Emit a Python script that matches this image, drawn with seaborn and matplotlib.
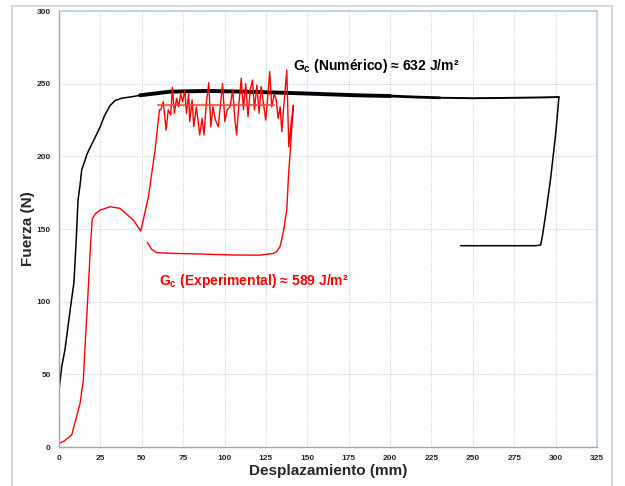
import matplotlib
matplotlib.use("Agg")
import matplotlib.pyplot as plt
import seaborn as sns
import pandas as pd
from matplotlib.patches import Rectangle

# ---------------- data ----------------
# Numerical curve (black)
num_load_x = [0, 0, 1.6, 3.6, 7, 9, 10.3, 11.5, 12.7, 13.7, 17.1, 20.5, 24.8, 27.5, 30.9, 34, 38, 44, 49]
num_load_y = [0, 39, 55, 67, 96.5, 113, 140, 170, 180, 190.6, 202, 210, 220, 228, 235, 238.5, 240, 241, 242]
num_plateau_x = [49, 67, 90, 120, 150, 180, 200]
num_plateau_y = [242, 244.5, 245, 244.3, 243.2, 242, 241.5]
num_taper_x = [200, 215, 230]
num_taper_y = [241.5, 240.8, 240.3]
num_tail_x = [230, 250, 270, 290, 302]
num_tail_y = [240.3, 240, 240.2, 240.5, 240.8]
num_unload_x = [302, 300, 297, 294, 292, 291, 288, 260, 242.6]
num_unload_y = [240.8, 215, 185, 160, 145, 139, 138.5, 138.5, 138.5]

# Experimental curve (red)
exp_x = [0, 3, 7.7, 12.7, 14.7, 16, 17.1, 19.2, 20.1, 22, 24.8, 30.9, 36.9, 45, 49.4,
         54, 58, 60.7,
         61.5, 63, 64.7, 66, 67.5, 68.5, 69.7, 71, 72.3, 73.5, 74.7, 76, 77, 78.3,
         79, 80.4, 81.4, 83, 85, 86.4, 87.6, 89, 90.5, 91.7, 93, 94.5, 96.2, 97.6,
         98.8, 100.2, 101.6, 103.3, 104.9, 106.3, 107.3, 108.7, 110.1, 111.4,
         112.8, 114.2, 115.5, 116.9, 118.1, 119.5, 120.9, 122.1, 123.5, 124.9,
         126.1, 127.3, 128.5, 130, 131.2, 132.4, 133.6, 134.6, 136, 137.6, 138.8,
         140, 141.6,
         140, 138.6, 137.6, 135.5, 133.6, 131.5, 129.6, 121.6, 105.5, 85.3, 70,
         59.1, 56, 53.4]
exp_y = [2.5, 4, 8.3, 30, 46, 75, 96.5, 142, 157, 160.5, 163, 165.3, 164.2, 156, 148.6,
         172, 204, 232,
         232, 237.6, 218, 232, 228.4, 247.5, 229.6, 240, 234, 243, 237.6, 245.6,
         229.6, 243, 224, 238.8, 220.4, 234, 214.7, 226, 214.7, 236.5, 250.7,
         220.4, 234, 225, 220.4, 236.5, 250, 224, 232, 234, 245.6, 225, 214.7,
         236.5, 253.7, 232, 250, 227.3, 245.6, 252.5, 232, 249, 229.6, 248, 236.5,
         225, 241, 258.3, 234, 243, 238.8, 226, 234, 217, 237.6, 259.4, 206.6,
         220.4, 235.3,
         209, 186, 163, 148, 138, 134.5, 133.2, 132, 132.1, 132.8, 133.2,
         133.7, 136, 140.8]

exp_mean_x = [60, 129.6]
exp_mean_y = [235, 235]

x_ticks = list(range(0, 326, 25))
y_ticks = list(range(0, 301, 50))

label_num = r"$\mathbf{G}_\mathbf{c}$ (Numérico) ≈ 632 J/m²"
label_exp = r"$\mathbf{G}_\mathbf{c}$ (Experimental) ≈ 589 J/m²"

# ---------------- style ----------------
sns.set_style("white")
plt.rcParams['font.family'] = ['Liberation Sans', 'DejaVu Sans']
plt.rcParams['mathtext.fontset'] = 'custom'
plt.rcParams['mathtext.rm'] = 'Liberation Sans:bold'
plt.rcParams['mathtext.bf'] = 'Liberation Sans:bold'
plt.rcParams['mathtext.it'] = 'Liberation Sans:bold'

fig = plt.figure(figsize=(6.25, 4.86), dpi=100)
ax = fig.add_axes([59/625, 39/486, 538/625, 436/486])

# outer frame
fig.patches.append(Rectangle((12/625, -0.05), 600/625, (486-6)/486 + 0.05,
                             transform=fig.transFigure, fill=False,
                             edgecolor='#d9d9d9', lw=1.5, zorder=0))

def line(x, y, color, lw, alpha=1.0):
    df = pd.DataFrame({"x": x, "y": y})
    sns.lineplot(data=df, x="x", y="y", sort=False, estimator=None, ax=ax,
                 color=color, lw=lw, alpha=alpha)

line(num_load_x, num_load_y, 'black', 1.1)
line(num_plateau_x, num_plateau_y, 'black', 2.8)
line(num_taper_x, num_taper_y, 'black', 2.0)
line(num_tail_x, num_tail_y, 'black', 1.4)
line(num_unload_x, num_unload_y, 'black', 1.1)
line(exp_x, exp_y, '#ff0000', 1.0)
line(exp_mean_x, exp_mean_y, '#ff4040', 1.6, 0.8)

ax.set_xlim(0, 325)
ax.set_ylim(0, 300)
ax.set_xticks(x_ticks)
ax.set_yticks(y_ticks)
ax.grid(True, color='#c6d9f0', lw=0.8, ls=(0, (1, 1)))
ax.set_axisbelow(True)
ax.tick_params(length=0, labelsize=6, pad=6)
for t in ax.get_xticklabels() + ax.get_yticklabels():
    t.set_fontweight('bold')

for s in ['top', 'right']:
    ax.spines[s].set_color('#b8cce4')
    ax.spines[s].set_linewidth(1.2)
for s in ['left', 'bottom']:
    ax.spines[s].set_color('#a6a6a6')
    ax.spines[s].set_linewidth(1.0)

ax.set_xlabel("Desplazamiento (mm)", fontsize=11, fontweight='bold')
ax.set_ylabel("Fuerza (N)", fontsize=11, fontweight='bold')
ax.xaxis.set_label_coords(0.5, -0.04)
ax.yaxis.set_label_coords(-0.045, 0.5)

ax.text(141.5, 262, label_num, fontsize=10, fontweight='bold', color='black',
        va='center', ha='left')
ax.text(60.5, 114, label_exp, fontsize=10, fontweight='bold', color='#ff0000',
        va='center', ha='left')

fig.savefig("out.png", dpi=100)
